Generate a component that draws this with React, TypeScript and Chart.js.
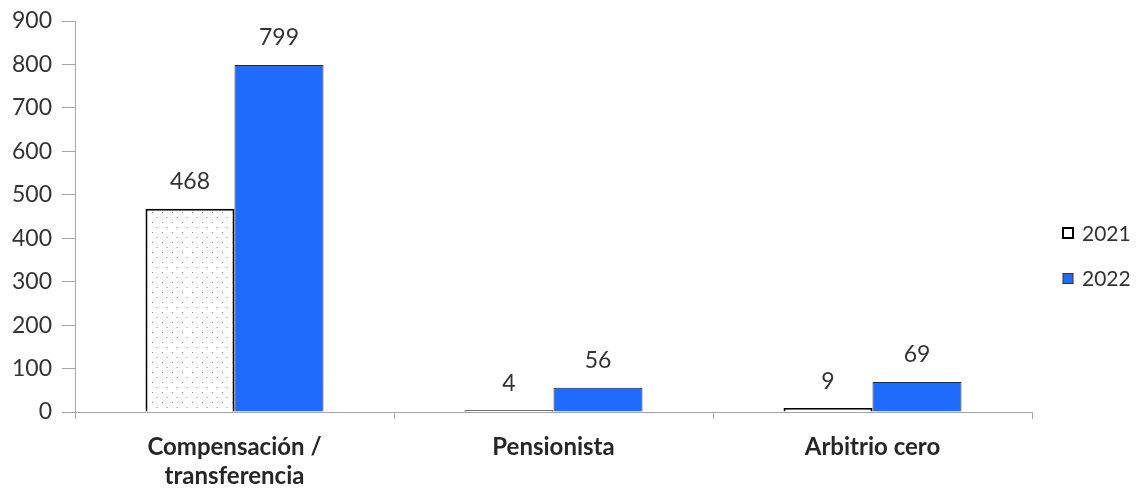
import React, { useEffect, useRef } from "react";
import { Chart, registerables } from "chart.js";

Chart.register(...registerables);

const categories: (string | string[])[] = [["Compensación /", "transferencia"], "Pensionista", "Arbitrio cero"];
const seriesNames = ["2021", "2022"];
const values2021 = [468, 4, 9];
const values2022 = [799, 56, 69];
const yTicks = [0, 100, 200, 300, 400, 500, 600, 700, 800, 900];

const FONT = "Lato, 'Open Sans', sans-serif";
const BLUE = "#1f6bfb";
const TEXT = "#262626";

function makePattern(): CanvasPattern | string {
  const c = document.createElement("canvas");
  c.width = 10;
  c.height = 10;
  const ctx = c.getContext("2d");
  if (!ctx) return "#fff";
  ctx.fillStyle = "#ffffff";
  ctx.fillRect(0, 0, 10, 10);
  ctx.fillStyle = "#8a8a8a";
  ctx.fillRect(2, 2, 1, 1);
  ctx.fillStyle = "#c4c4c4";
  ctx.fillRect(6, 7, 2, 1);
  const p = ctx.createPattern(c, "repeat");
  return p || "#fff";
}

export default function App() {
  const ref = useRef<HTMLCanvasElement | null>(null);
  useEffect(() => {
    if (!ref.current) return;
    const pattern = makePattern();

    const labelsPlugin = {
      id: "valueLabels",
      afterDatasetsDraw(chart: any) {
        const ctx = chart.ctx;
        ctx.save();
        ctx.font = `23px ${FONT}`;
        ctx.fillStyle = "#333";
        ctx.textAlign = "center";
        ctx.textBaseline = "middle";
        chart.data.datasets.forEach((ds: any, i: number) => {
          const meta = chart.getDatasetMeta(i);
          meta.data.forEach((bar: any, j: number) => {
            ctx.fillText(String(ds.data[j]), bar.x, bar.y - 27);
          });
        });
        ctx.restore();
      },
    };

    const legendPlugin = {
      id: "customLegend",
      afterDraw(chart: any) {
        const ctx = chart.ctx;
        ctx.save();
        ctx.font = `21px ${FONT}`;
        ctx.textBaseline = "middle";
        ctx.textAlign = "left";
        const items = [
          { y: 233, fill: pattern, stroke: "#000", lw: 2 },
          { y: 278.5, fill: BLUE, stroke: "#333", lw: 1 },
        ];
        items.forEach((it, i) => {
          const x = 1063;
          ctx.fillStyle = it.fill as any;
          ctx.fillRect(x, it.y - 5, 10, 10);
          ctx.strokeStyle = it.stroke;
          ctx.lineWidth = it.lw;
          ctx.strokeRect(x, it.y - 5, 10, 10);
          ctx.fillStyle = "#333";
          ctx.fillText(seriesNames[i], 1082, it.y + 1);
        });
        ctx.restore();
      },
    };

    const chart = new Chart(ref.current, {
      type: "bar",
      data: {
        labels: categories as any,
        datasets: [
          {
            label: seriesNames[0],
            data: values2021,
            backgroundColor: pattern as any,
            borderColor: "#000",
            borderWidth: 2,
            categoryPercentage: 0.558,
            barPercentage: 1,
          },
          {
            label: seriesNames[1],
            data: values2022,
            backgroundColor: BLUE,
            borderColor: "#2a2a2a",
            borderWidth: 1,
            categoryPercentage: 0.558,
            barPercentage: 1,
          },
        ],
      },
      options: {
        animation: false,
        responsive: false,
        maintainAspectRatio: false,
        layout: { padding: { top: 21, right: 104, left: 0, bottom: 0 } },
        plugins: {
          legend: { display: false },
          tooltip: { enabled: false },
        },
        scales: {
          x: {
            offset: true,
            grid: {
              display: true,
              drawOnChartArea: false,
              offset: true,
              tickLength: 7,
              color: "#a6a6a6",
            },
            border: { display: true, color: "#a6a6a6", width: 1 },
            ticks: {
              color: TEXT,
              font: { family: FONT, size: 24, weight: "bold", lineHeight: 1.2 },
              padding: 14,
              maxRotation: 0,
              autoSkip: false,
            },
            afterFit(scale: any) {
              scale.height = 76;
            },
          },
          y: {
            min: 0,
            max: 900,
            afterBuildTicks(scale: any) {
              scale.ticks = yTicks.map((v) => ({ value: v }));
            },
            grid: {
              display: true,
              drawOnChartArea: false,
              tickLength: 13,
              color: "#a6a6a6",
            },
            border: { display: true, color: "#a6a6a6", width: 1 },
            ticks: {
              color: "#333",
              font: { family: FONT, size: 23 },
              padding: 10,
            },
            afterFit(scale: any) {
              scale.width = 75;
              scale.paddingTop = 0;
              scale.paddingBottom = 0;
            },
          },
        },
      },
      plugins: [labelsPlugin, legendPlugin],
    });
    return () => chart.destroy();
  }, []);

  return (
    <div style={{ position: "absolute", left: 0, top: 0, width: 1136, height: 488, background: "#fff" }}>
      <canvas ref={ref} width={1136} height={488} style={{ display: "block", width: 1136, height: 488 }} />
    </div>
  );
}
